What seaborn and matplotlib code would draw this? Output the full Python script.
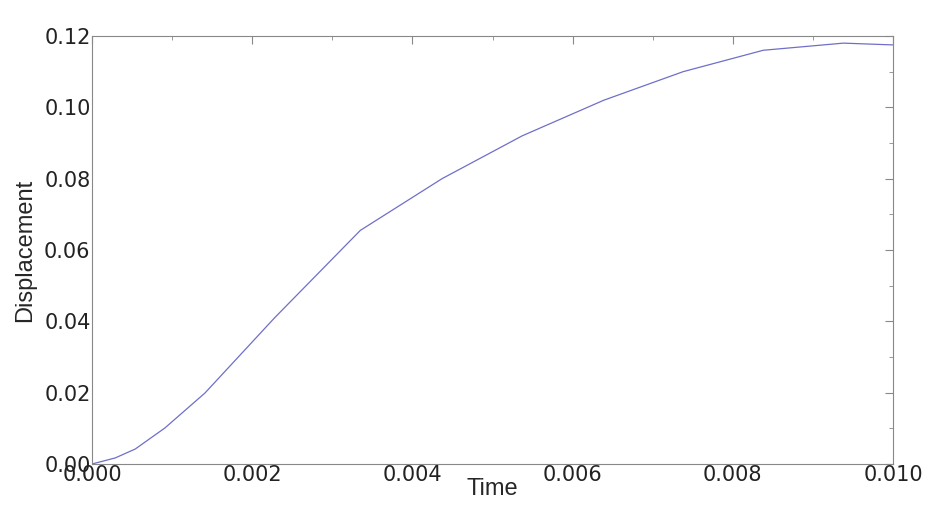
import matplotlib
matplotlib.use("Agg")
import matplotlib.pyplot as plt
import seaborn as sns
from matplotlib.ticker import AutoMinorLocator

time = [0.0, 0.00029, 0.00054, 0.00091, 0.00141, 0.00228, 0.00335, 0.00437, 0.00537, 0.00639, 0.00738, 0.00838, 0.00938, 0.0100]
disp = [0.0, 0.0017, 0.0042, 0.0101, 0.0199, 0.041, 0.0655, 0.080, 0.092, 0.102, 0.110, 0.116, 0.118, 0.1175]
xticks = [0.000, 0.002, 0.004, 0.006, 0.008, 0.010]
yticks = [0.00, 0.02, 0.04, 0.06, 0.08, 0.10, 0.12]

sns.set_style("white")
plt.rcParams['font.family'] = ['DejaVu Sans']
fig = plt.figure(figsize=(9.46, 5.21), dpi=100)
ax = fig.add_axes([92/946, 1-464/521, (893-92)/946, (464-36)/521])
sns.lineplot(x=time, y=disp, ax=ax, color="#6f6fc8", linewidth=0.9)
ax.set_xlim(0, 0.010)
ax.set_ylim(0, 0.12)
ax.set_xticks(xticks)
ax.set_xticklabels([f"{v:.3f}" for v in xticks])
ax.set_yticks(yticks)
ax.set_yticklabels([f"{v:.2f}" for v in yticks])
ax.xaxis.set_minor_locator(AutoMinorLocator(2))
ax.yaxis.set_minor_locator(AutoMinorLocator(2))
ax.tick_params(which="both", direction="in", top=True, right=True, colors="#888888", labelcolor="#222222", labelsize=15, pad=1)
ax.tick_params(which="major", length=6)
ax.tick_params(which="minor", length=3)
for s in ax.spines.values():
    s.set_color("#888888")
ax.set_xlabel("Time", fontsize=17, labelpad=-5, family="Liberation Sans")
ax.set_ylabel("Displacement", fontsize=17, labelpad=6, family="Liberation Sans")
fig.savefig("out.png", dpi=100)
